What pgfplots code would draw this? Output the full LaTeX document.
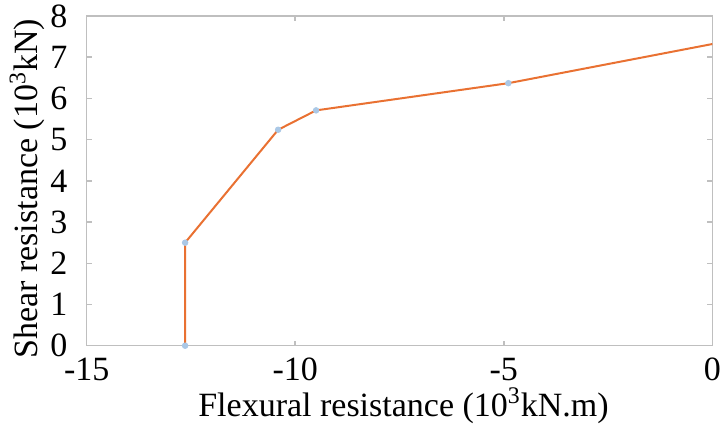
\documentclass[border=0pt]{standalone}
\usepackage{pgfplots}
\pgfplotsset{compat=1.18}
\usepackage{fontspec}
\setmainfont{Liberation Serif}
\definecolor{lineorange}{RGB}{233,113,50}
\definecolor{markblue}{RGB}{170,200,230}
\definecolor{framegray}{RGB}{191,191,191}
\begin{document}
\begin{tikzpicture}
\begin{axis}[
  scale only axis,
  width=312.8pt, height=164.85pt,
  xmin=-15, xmax=0, ymin=0, ymax=8,
  xtick={-15,-10,-5,0}, xticklabels={-15,-10,-5,0},
  ytick={0,1,2,3,4,5,6,7,8}, yticklabels={0,1,2,3,4,5,6,7,8},
  tick align=inside,
  major tick length=2.5pt,
  axis line style={framegray, line width=0.75pt},
  every tick/.style={framegray, line width=0.75pt},
  tick label style={font=\fontsize{17}{20}\selectfont, text=black, inner sep=0pt},
  xticklabel style={yshift=-6pt},
  yticklabel style={xshift=-9.5pt},
  label style={font=\fontsize{17}{20}\selectfont},
  xlabel={Flexural resistance (10\textsuperscript{3}kN.m)},
  ylabel={Shear resistance (10\textsuperscript{3}kN)},
  xlabel style={yshift=0pt, xshift=2pt},
  ylabel style={yshift=-1pt, xshift=-4pt},
  clip=true,
]
\addplot[only marks, mark=*, mark size=1.4pt, color=markblue] coordinates {
  (-12.64,0) (-12.64,2.50) (-10.41,5.24) (-9.50,5.71) (-4.89,6.37)
};
\addplot[no marks, color=lineorange, line width=1pt] coordinates {
  (-12.64,0) (-12.64,2.50) (-10.41,5.24) (-9.50,5.71) (-4.89,6.37) (0,7.32)
};
\end{axis}
\pgfresetboundingbox
\path[use as bounding box] ([xshift=-43.35pt,yshift=-40.65pt]current axis.south west) rectangle ([xshift=3.85pt,yshift=8pt]current axis.north east);
\end{tikzpicture}
\end{document}
